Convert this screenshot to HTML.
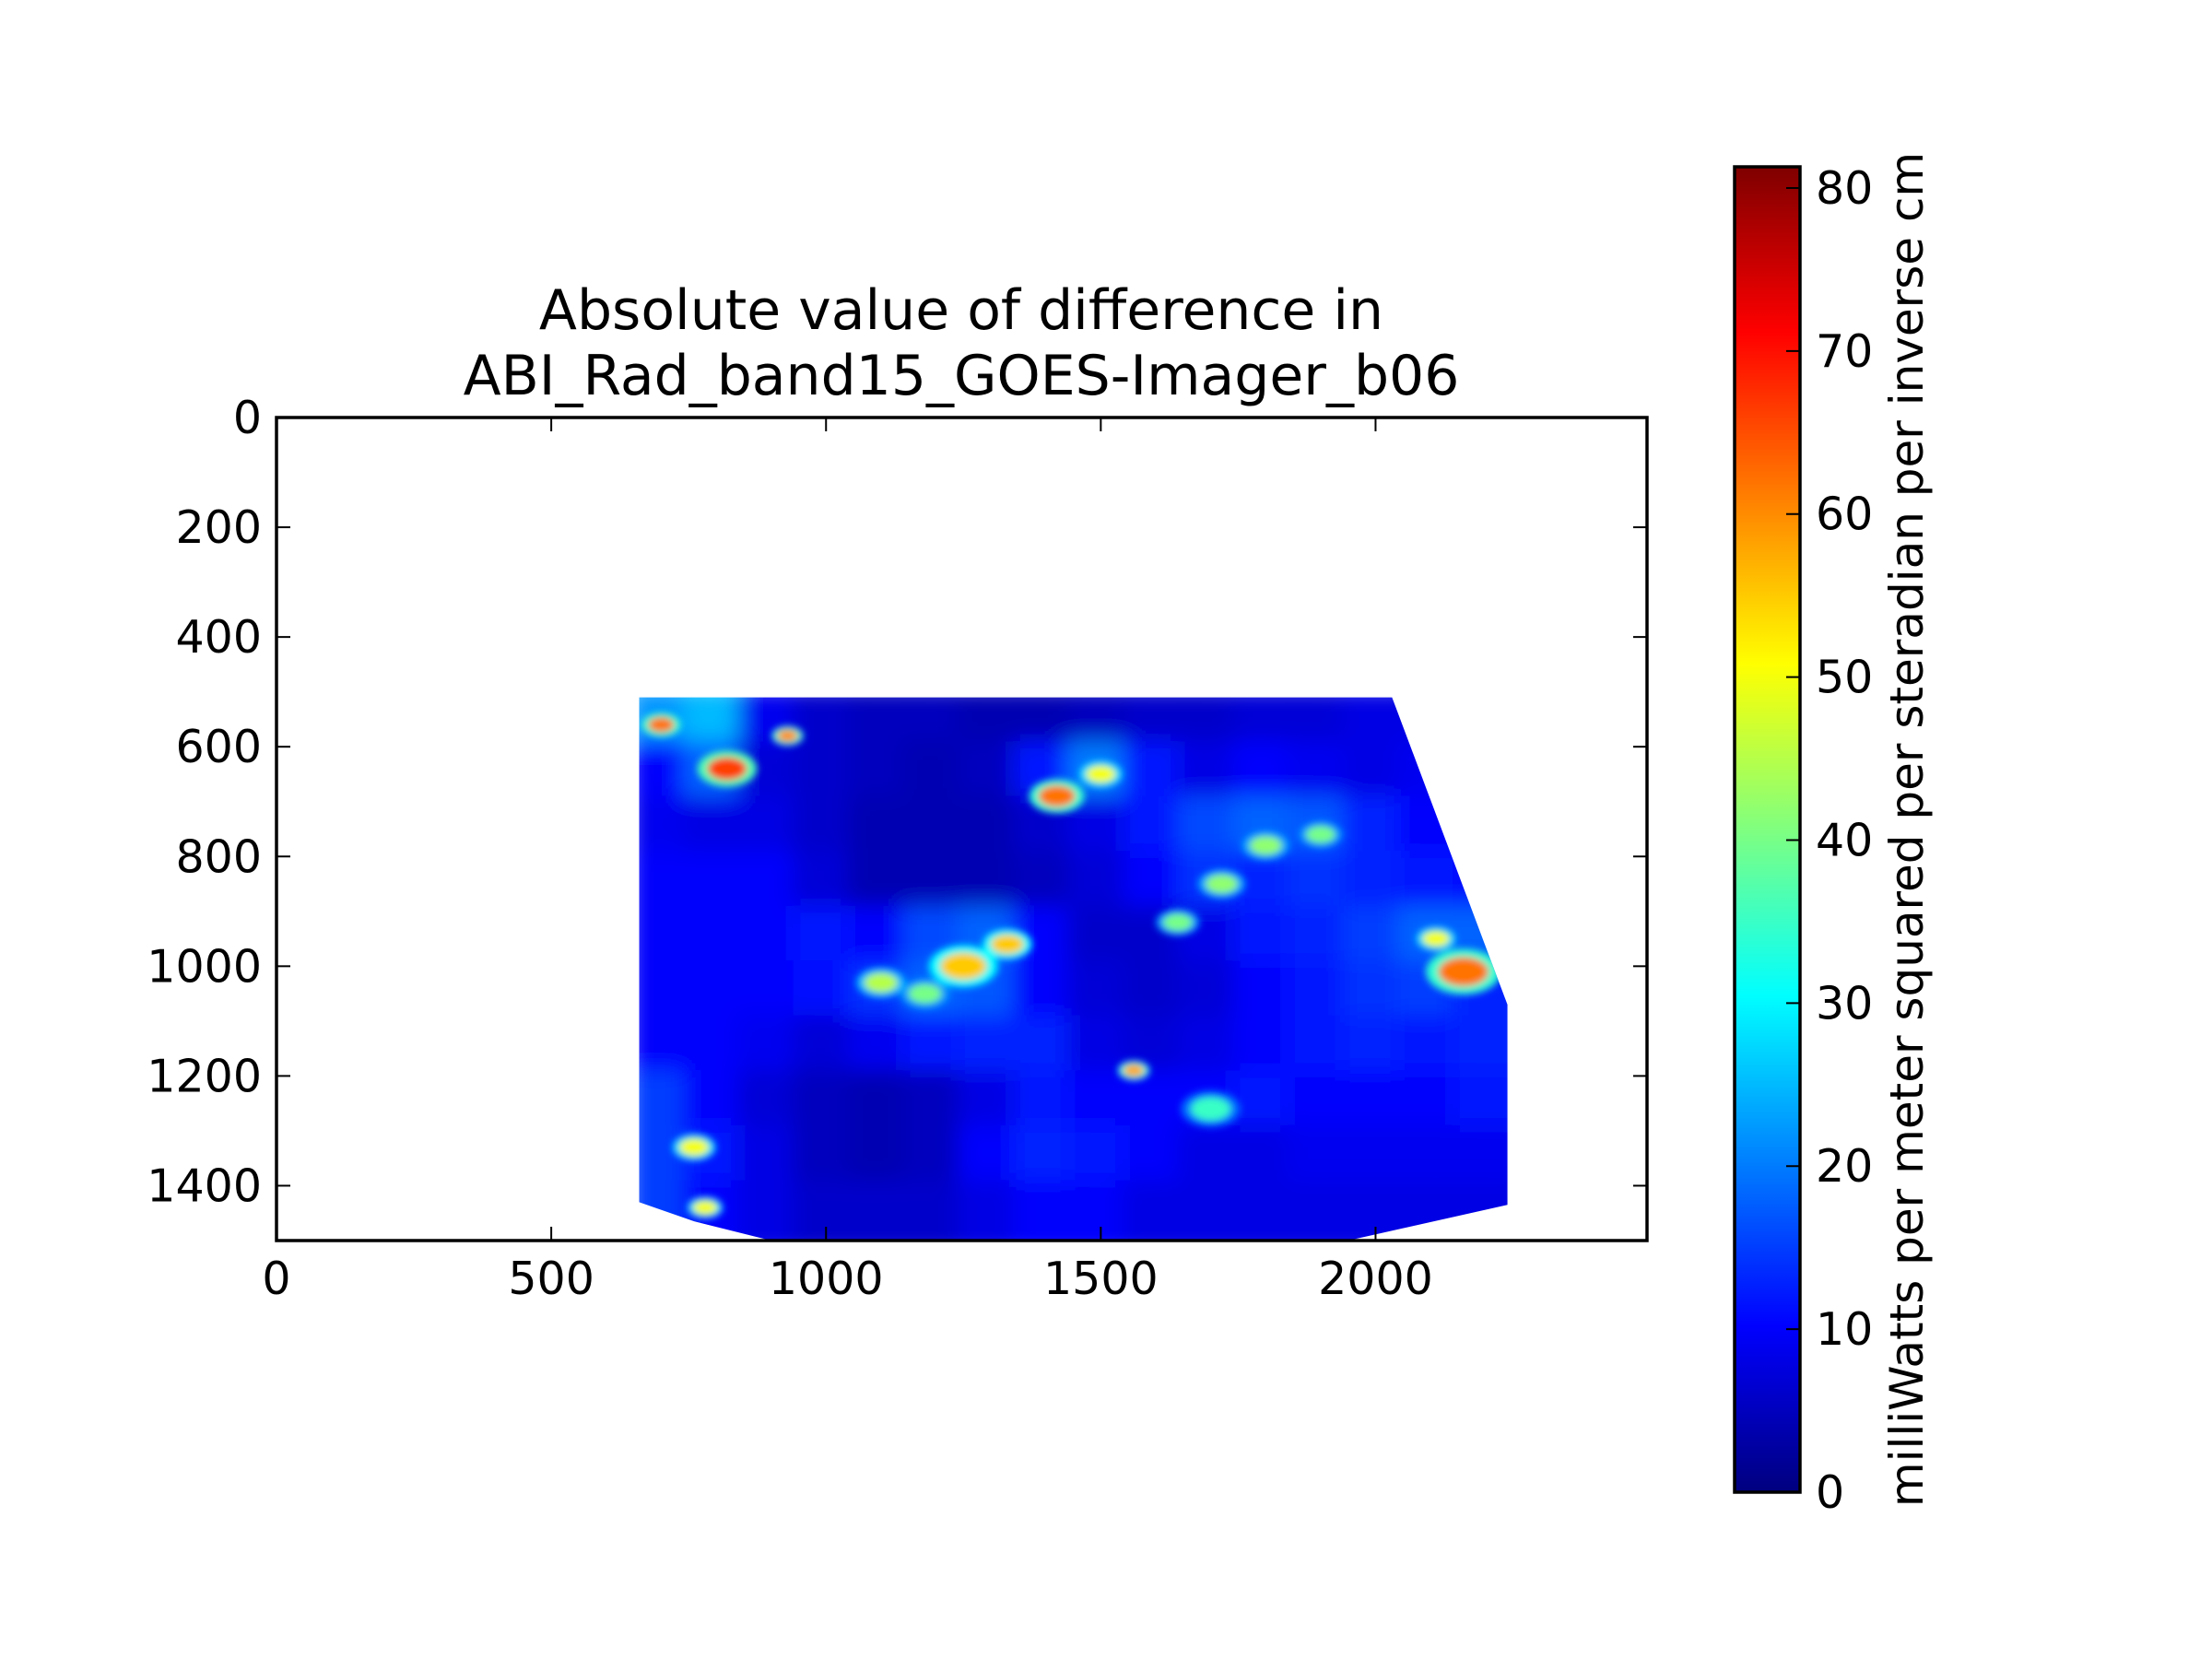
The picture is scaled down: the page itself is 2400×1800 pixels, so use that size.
<!DOCTYPE html>
<html><head><meta charset="utf-8"><style>
html,body{margin:0;padding:0;background:#fff;}
svg{display:block;font-family:"DejaVu Sans","Liberation Sans",sans-serif;}
</style></head><body>
<svg id="fig" width="2400" height="1800" viewBox="0 0 2400 1800" xmlns="http://www.w3.org/2000/svg">
<defs>
<clipPath id="dataClip"><polygon id="clipPoly" points=""/></clipPath>
<filter id="soft" x="-5%" y="-5%" width="110%" height="110%"><feGaussianBlur stdDeviation="12"/></filter>
<filter id="soft2"><feGaussianBlur stdDeviation="4"/></filter>
<linearGradient id="jetGrad" x1="0" y1="1" x2="0" y2="0">
<stop offset="0" stop-color="#00007f"/><stop offset="0.125" stop-color="#0000ff"/>
<stop offset="0.375" stop-color="#00ffff"/><stop offset="0.625" stop-color="#ffff00"/>
<stop offset="0.875" stop-color="#ff0000"/><stop offset="1" stop-color="#7f0000"/>
</linearGradient>
</defs>
<text x="1043" y="357" font-size="60" text-anchor="middle">Absolute value of difference in</text>
<text x="1043" y="428" font-size="60" text-anchor="middle">ABI_Rad_band15_GOES-Imager_b06</text>
<g id="heat" clip-path="url(#dataClip)"></g>
<g id="axes"></g>
<g id="cbar"></g>
</svg>
<script>
// chart data
const xTicks = [0, 500, 1000, 1500, 2000];
const yTicks = [0, 200, 400, 600, 800, 1000, 1200, 1400];
const cbTicks = [0, 10, 20, 30, 40, 50, 60, 70, 80];
const gridX0 = 660, gridY0 = 510, cellSize = 100;
const rowValues = [
 [22,25,9,6,5,5,4,4,5,6,6,7,7,8,8,8],
 [10,18,7,6,5,4,5,12,20,12,8,10,9,8,9,9],
 [9,8,8,6,4,4,4,6,8,12,16,18,17,13,10,10],
 [10,10,10,7,4,4,4,5,7,10,14,13,14,13,12,11],
 [10,10,10,12,10,16,18,10,6,6,8,12,13,15,18,18],
 [10,10,10,11,14,18,17,10,7,6,7,10,12,14,15,13],
 [10,10,9,7,9,12,13,13,8,7,8,10,12,13,12,13],
 [15,10,7,5,4,5,8,12,10,10,10,12,10,10,10,12],
 [15,12,8,5,4,5,10,13,12,10,8,8,9,9,9,9],
 [15,10,8,6,6,6,8,10,10,8,8,8,8,8,8,8]
];
const hotX = [700, 820, 930, 1420, 1500, 1250, 1330, 1100, 1640, 1560, 2160, 2110, 760, 780, 1800, 1720, 1180, 1700, 1900];
const hotY = [560, 640, 580, 690, 650, 1000, 960, 1030, 920, 1190, 1010, 950, 1330, 1440, 780, 850, 1050, 1260, 760];
const hotV = [62, 66, 60, 62, 50, 55, 55, 45, 40, 58, 62, 50, 50, 50, 42, 42, 40, 35, 40];
const hotR = [20, 30, 16, 28, 22, 35, 25, 25, 22, 16, 38, 20, 22, 18, 24, 24, 25, 30, 22];
const vmax = 81.3;

const NS = "http://www.w3.org/2000/svg";
const AX = {l:300, r:1787, t:453, b:1346}, XMAX = 2494, YMAX = 1500;
const sx = v => AX.l + v * (AX.r - AX.l) / XMAX;
const sy = v => AX.t + v * (AX.b - AX.t) / YMAX;
const CB = {l:1882, r:1953, t:181, b:1619};
const cy = v => CB.b - v * (CB.b - CB.t) / vmax;

function jet(v){
  const t = Math.max(0, Math.min(1, v / vmax));
  const f = x => Math.max(0, Math.min(1, x));
  const r = f(1.5 - Math.abs(4*t - 3)), g = f(1.5 - Math.abs(4*t - 2)), b = f(1.5 - Math.abs(4*t - 1));
  return `rgb(${Math.round(r*255)},${Math.round(g*255)},${Math.round(b*255)})`;
}
function el(tag, attrs, parent){
  const e = document.createElementNS(NS, tag);
  for (const k in attrs) e.setAttribute(k, attrs[k]);
  parent.appendChild(e); return e;
}

const poly = [[660,510],[2030,510],[2240,1070],[2240,1435],[1950,1500],[900,1500],[760,1465],[660,1430]];
document.getElementById('clipPoly').setAttribute('points', poly.map(p => sx(p[0])+','+sy(p[1])).join(' '));

const heat = document.getElementById('heat');
const base = el('g', {filter:'url(#soft)'}, heat);
rowValues.forEach((row, ri) => {
  row.forEach((v, ci) => {
    const x0 = sx(gridX0 + ci*cellSize) - 12, y0 = sy(gridY0 + ri*cellSize) - 12;
    const w = sx(gridX0 + (ci+1)*cellSize) - sx(gridX0 + ci*cellSize) + 24;
    const h = sy(gridY0 + (ri+1)*cellSize) - sy(gridY0 + ri*cellSize) + 24;
    const r = el('rect', {x:x0, y:y0, width:w, height:h, fill:jet(v)}, base);
    
    
  });
});
const hot = el('g', {filter:'url(#soft2)'}, heat);
hotX.forEach((x, i) => {
  const rr = hotR[i] * (AX.r - AX.l) / XMAX;
  const c1 = el('ellipse', {cx:sx(x), cy:sy(hotY[i]), rx:rr*1.8, ry:rr*1.1, fill:jet(hotV[i]*0.55)}, hot);
  
  
  const c = el('ellipse', {cx:sx(x), cy:sy(hotY[i]), rx:rr*1.2, ry:rr*0.7, fill:jet(hotV[i])}, hot);
  
  
});

const axes = document.getElementById('axes');
const frame = el('rect', {x:AX.l, y:AX.t, width:AX.r-AX.l, height:AX.b-AX.t, fill:'none', stroke:'#000', 'stroke-width':3.5}, axes);


xTicks.forEach(v => {
  const x = sx(v);
  el('line', {x1:x, y1:AX.b, x2:x, y2:AX.b-15, stroke:'#000', 'stroke-width':2}, axes);
  el('line', {x1:x, y1:AX.t, x2:x, y2:AX.t+15, stroke:'#000', 'stroke-width':2}, axes);
  const t = el('text', {x:x, y:AX.b+58, 'font-size':49, 'text-anchor':'middle'}, axes);
  t.textContent = v;
  
  
});
yTicks.forEach(v => {
  const y = sy(v);
  el('line', {x1:AX.l, y1:y, x2:AX.l+15, y2:y, stroke:'#000', 'stroke-width':2}, axes);
  el('line', {x1:AX.r, y1:y, x2:AX.r-15, y2:y, stroke:'#000', 'stroke-width':2}, axes);
  const t = el('text', {x:AX.l-16, y:y+17, 'font-size':49, 'text-anchor':'end'}, axes);
  t.textContent = v;
  
  
});

const cbar = document.getElementById('cbar');
const cr = el('rect', {x:CB.l, y:CB.t, width:CB.r-CB.l, height:CB.b-CB.t, fill:'url(#jetGrad)', stroke:'#000', 'stroke-width':3.5}, cbar);


cbTicks.forEach(v => {
  const y = cy(v);
  el('line', {x1:CB.r, y1:y, x2:CB.r-15, y2:y, stroke:'#000', 'stroke-width':2}, cbar);
  const t = el('text', {x:CB.r+17, y:y+17, 'font-size':49}, cbar);
  t.textContent = v;
  
  
});
const lab = el('text', {x:0, y:0, 'font-size':50, 'text-anchor':'middle', transform:`translate(2086,${(CB.t+CB.b)/2}) rotate(-90)`}, cbar);
lab.textContent = 'milliWatts per meter squared per steradian per inverse cm';


</script>
</body></html>
